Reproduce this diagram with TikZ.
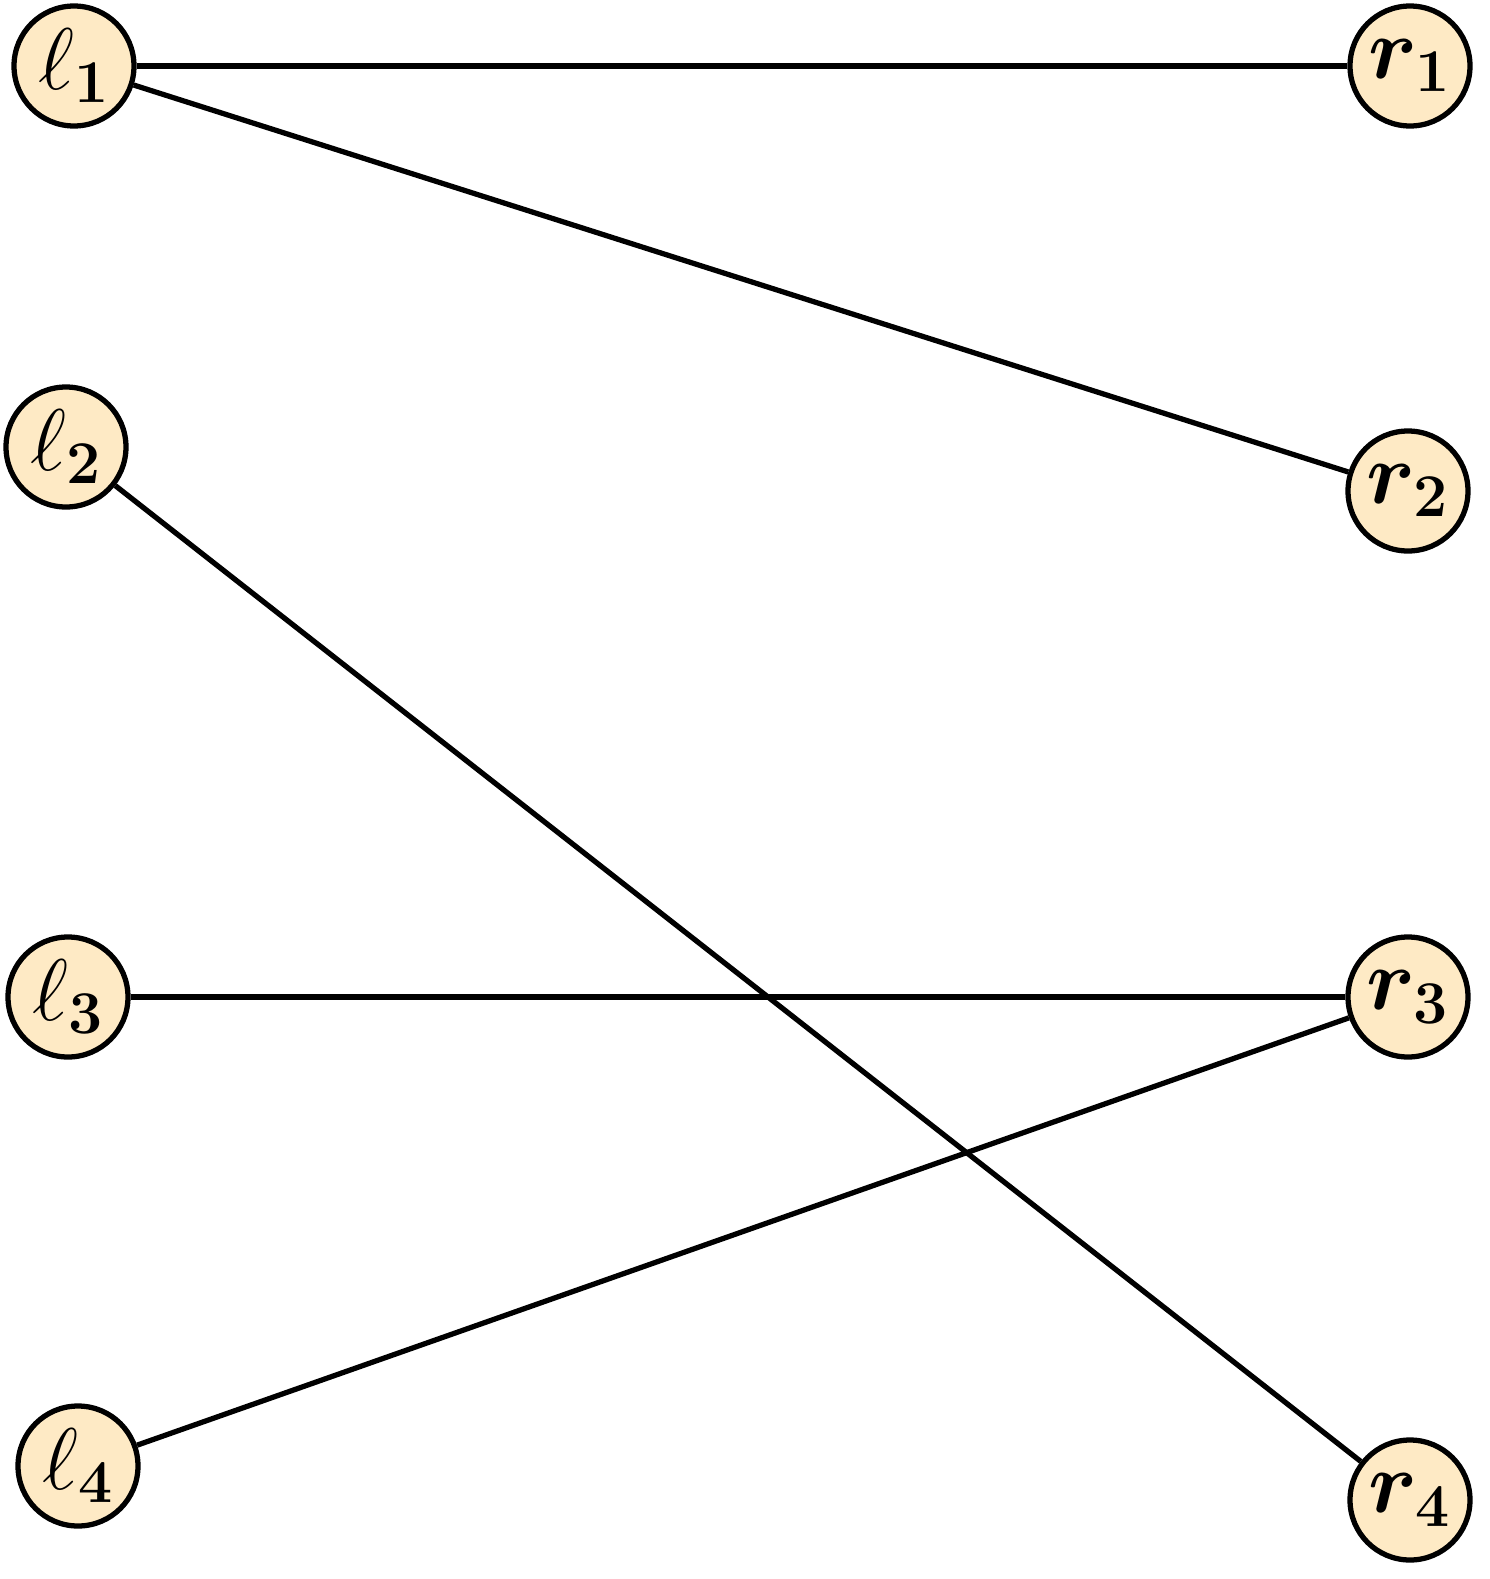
\documentclass[tikz,border=0pt]{standalone}
\usepackage{amsmath,bm}
\definecolor{vertexfill}{RGB}{254,234,197}
\tikzset{
  vertex/.style={circle,draw=black,line width=1.5pt,fill=vertexfill,
    minimum size=1.2cm,inner sep=0pt,font=\fontsize{24}{28}\selectfont},
  edge/.style={line width=1.5pt}
}
\begin{document}
\begin{tikzpicture}

                    % frame
                    \useasboundingbox (0,0) rectangle (14.89,-15.79);

                    % left vertices
                    \node[vertex] (l1) at (0.74,-0.66) {$\ell_{\mathbf{1}}$};
                    \node[vertex] (l2) at (0.66,-4.47) {$\ell_{\mathbf{2}}$};
                    \node[vertex] (l3) at (0.68,-9.97) {$\ell_{\mathbf{3}}$};
                    \node[vertex] (l4) at (0.78,-14.66) {$\ell_{\mathbf{4}}$};

                    % right vertices
                    \node[vertex] (r1) at (14.10,-0.66) {$\bm{r}_{\mathbf{1}}$};
                    \node[vertex] (r2) at (14.08,-4.91) {$\bm{r}_{\mathbf{2}}$};
                    \node[vertex] (r3) at (14.08,-9.97) {$\bm{r}_{\mathbf{3}}$};
                    \node[vertex] (r4) at (14.10,-15.00) {$\bm{r}_{\mathbf{4}}$};

                    % edges
                    \draw[edge] (l1) -- (r1);
                    \draw[edge] (l1) -- (r2);
                    \draw[edge] (l2) -- (r4);
                    \draw[edge] (l3) -- (r3);
                    \draw[edge] (l4) -- (r3);

\end{tikzpicture}
\end{document}
